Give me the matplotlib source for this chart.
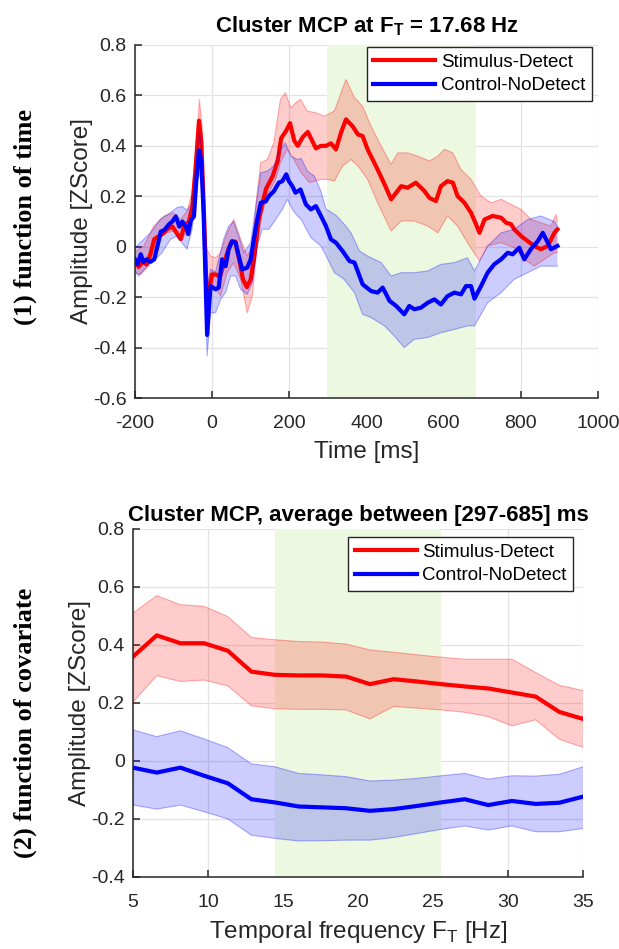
import matplotlib
matplotlib.use('Agg')
import matplotlib.pyplot as plt
import numpy as np

plt.rcParams['font.family'] = 'Liberation Sans'
plt.rcParams['mathtext.fontset'] = 'custom'
plt.rcParams['mathtext.rm'] = 'Liberation Sans'
plt.rcParams['axes.unicode_minus'] = False

# ---- (1) amplitude as a function of time ----
red_t = [-200, -190, -180, -170, -160, -150, -140, -129, -116, -103, -90, -81, -73, -60, -51, -42, -34, -28,
         -21, -16, -12, -6, 0, 10, 20, 30, 40, 50, 60, 70, 80, 90, 100, 110, 120, 130, 140, 157, 170, 179,
         192, 202, 213, 222, 235, 248, 261, 269, 282, 295, 308, 321, 334, 347, 364, 378, 390, 403, 416, 429,
         447, 464, 477, 490, 507, 528, 550, 563, 580, 593, 610, 624, 636, 654, 671, 684, 693, 706, 727, 749,
         762, 775, 783, 801, 818, 835, 852, 870, 887, 895]
red_mean = [-0.06, -0.08, -0.06, -0.07, -0.03, 0.03, 0.04, 0.05, 0.07, 0.08, 0.05, 0.03, 0.08, 0.10, 0.16, 0.33,
            0.50, 0.42, 0.13, -0.10, -0.28, -0.16, -0.11, -0.11, -0.12, -0.07, -0.02, 0.02, 0.02, -0.05, -0.13,
            -0.16, -0.13, -0.03, 0.10, 0.17, 0.23, 0.28, 0.34, 0.43, 0.46, 0.49, 0.42, 0.40, 0.435, 0.455, 0.415,
            0.39, 0.40, 0.40, 0.41, 0.386, 0.452, 0.505, 0.478, 0.445, 0.439, 0.386, 0.346, 0.306, 0.247, 0.188,
            0.214, 0.24, 0.234, 0.254, 0.221, 0.194, 0.181, 0.24, 0.26, 0.254, 0.201, 0.174, 0.135, 0.089, 0.055,
            0.108, 0.122, 0.115, 0.095, 0.089, 0.069, 0.042, 0.022, 0.003, -0.01, 0.003, 0.055, 0.069]

red_up_t = [-203, -177, -151, -125, -100, -82, -65, -52, -39, -33, -26, -17, -4, 9, 22, 39, 56, 74, 91, 104,
            117, 126, 143, 160, 177, 190, 204, 216, 229, 247, 269, 291, 317, 334, 347, 369, 390, 412, 438, 464,
            481, 507, 533, 563, 585, 602, 624, 645, 671, 697, 723, 749, 775, 801, 827, 852, 878, 891, 895]
red_up = [-0.024, 0.003, 0.082, 0.122, 0.135, 0.108, 0.14, 0.214, 0.425, 0.584, 0.478, 0.0, -0.037, -0.044,
          -0.024, 0.055, 0.108, 0.03, -0.037, 0.003, 0.214, 0.333, 0.346, 0.412, 0.584, 0.61, 0.551, 0.57, 0.584,
          0.538, 0.531, 0.518, 0.538, 0.61, 0.663, 0.591, 0.557, 0.478, 0.399, 0.326, 0.372, 0.372, 0.359, 0.34,
          0.359, 0.386, 0.372, 0.306, 0.267, 0.201, 0.174, 0.188, 0.168, 0.148, 0.108, 0.095, 0.082, 0.128, 0.10]

red_lo_t = [-203, -186, -164, -143, -117, -100, -87, -74, -56, -39, -33, -26, -19, -13, -4, 9, 22, 39, 56, 74,
            91, 104, 117, 130, 147, 165, 177, 195, 212, 231, 252, 282, 300, 317, 338, 360, 378, 403, 429, 464,
            490, 524, 559, 585, 610, 636, 662, 693, 714, 749, 783, 809, 835, 861, 887, 895]
red_lo = [-0.103, -0.11, -0.077, 0.03, 0.055, 0.062, 0.03, 0.04, 0.08, 0.254, 0.425, 0.267, -0.05, -0.30, -0.156,
          -0.162, -0.196, -0.103, -0.063, -0.129, -0.262, -0.196, 0.003, 0.135, 0.214, 0.267, 0.333, 0.386, 0.346,
          0.293, 0.254, 0.267, 0.267, 0.26, 0.32, 0.346, 0.32, 0.267, 0.174, 0.062, 0.102, 0.102, 0.082, 0.055,
          0.122, 0.082, 0.016, -0.057, 0.003, 0.016, -0.004, -0.05, -0.077, -0.05, -0.024, -0.024]

blue_t = [-200, -193, -185, -178, -170, -160, -150, -142, -133, -124, -111, -103, -94, -85, -77, -68, -62, -55,
          -47, -41, -34, -28, -22, -17, -13, -9, -4, 9, 17, 26, 35, 43, 52, 61, 69, 78, 91, 100, 108, 117, 126,
          139, 147, 160, 173, 182, 192, 199, 208, 216, 229, 243, 256, 269, 282, 295, 308, 321, 338, 356, 369,
          390, 412, 429, 442, 460, 477, 498, 511, 524, 541, 559, 576, 593, 610, 628, 645, 658, 671, 680, 697,
          714, 731, 749, 766, 779, 796, 809, 826, 844, 857, 870, 878, 895]
blue_mean = [-0.05, -0.07, -0.03, -0.06, -0.05, -0.06, -0.05, 0.0, 0.06, 0.066, 0.09, 0.10, 0.12, 0.08, 0.10,
             0.08, 0.05, 0.105, 0.12, 0.26, 0.383, 0.34, 0.13, -0.13, -0.35, -0.26, -0.156, -0.169, -0.162,
             -0.05, -0.077, -0.01, 0.022, 0.016, -0.037, -0.09, -0.083, -0.05, 0.029, 0.108, 0.174, 0.18, 0.2,
             0.22, 0.254, 0.26, 0.287, 0.26, 0.24, 0.214, 0.227, 0.168, 0.148, 0.161, 0.122, 0.082, 0.029, 0.016,
             -0.017, -0.057, -0.063, -0.149, -0.176, -0.182, -0.162, -0.215, -0.235, -0.268, -0.235, -0.248,
             -0.242, -0.222, -0.209, -0.229, -0.196, -0.182, -0.189, -0.156, -0.156, -0.206, -0.156, -0.103,
             -0.07, -0.05, -0.024, -0.03, -0.004, -0.05, -0.01, 0.022, 0.055, 0.016, -0.01, 0.003]

blue_up_t = [-203, -186, -160, -134, -108, -91, -78, -65, -52, -39, -33, -26, -17, -11, -4, 9, 17, 30, 43, 56,
             69, 82, 100, 113, 126, 143, 160, 177, 190, 204, 221, 231, 247, 265, 282, 295, 321, 342, 360, 382,
             403, 438, 464, 490, 524, 559, 593, 628, 662, 680, 714, 749, 783, 818, 852, 887, 895]
blue_up = [-0.01, 0.016, 0.055, 0.108, 0.135, 0.155, 0.16, 0.145, 0.174, 0.386, 0.458, 0.36, 0.03, -0.143, -0.09,
           -0.10, -0.05, 0.03, 0.082, 0.10, 0.042, -0.024, 0.016, 0.16, 0.293, 0.30, 0.32, 0.386, 0.412, 0.359,
           0.346, 0.35, 0.30, 0.28, 0.22, 0.15, 0.125, 0.09, 0.055, -0.017, -0.037, -0.063, -0.116, -0.103,
           -0.103, -0.096, -0.07, -0.063, -0.044, -0.096, 0.003, 0.055, 0.069, 0.108, 0.122, 0.10, 0.082]

blue_lo_t = [-203, -190, -169, -147, -130, -108, -91, -78, -65, -52, -39, -33, -26, -19, -13, -4, 9, 22, 35, 48,
             61, 74, 91, 104, 117, 130, 147, 165, 182, 195, 208, 221, 231, 256, 282, 300, 317, 342, 369, 390, 412,
             447, 472, 498, 524, 559, 593, 628, 662, 680, 714, 749, 783, 818, 852, 887, 895]
blue_lo = [-0.09, -0.116, -0.077, -0.05, -0.024, 0.029, 0.042, 0.016, -0.01, 0.069, 0.254, 0.293, 0.227, -0.103,
           -0.433, -0.262, -0.262, -0.209, -0.182, -0.116, -0.116, -0.169, -0.189, -0.143, 0.003, 0.069, 0.069,
           0.108, 0.148, 0.188, 0.148, 0.122, 0.108, 0.036, 0.003, -0.05, -0.103, -0.129, -0.182, -0.268, -0.281,
           -0.314, -0.354, -0.40, -0.367, -0.36, -0.341, -0.328, -0.314, -0.314, -0.222, -0.182, -0.129, -0.103,
           -0.077, -0.077, -0.077]

time_window = [297, 685]

# ---- (2) amplitude as a function of temporal frequency ----
freq = [5.00, 6.58, 8.16, 9.74, 11.32, 12.89, 14.47, 16.05, 17.63, 19.21, 20.79, 22.37, 23.95, 25.53, 27.11,
        28.68, 30.26, 31.84, 33.42, 35.00]
f_red_mean = [0.360, 0.433, 0.406, 0.406, 0.380, 0.308, 0.297, 0.295, 0.295, 0.291, 0.265, 0.282, 0.274, 0.265,
              0.257, 0.250, 0.236, 0.222, 0.169, 0.145]
f_red_up = [0.510, 0.570, 0.539, 0.533, 0.498, 0.426, 0.418, 0.412, 0.410, 0.403, 0.383, 0.375, 0.366, 0.358,
            0.351, 0.351, 0.351, 0.305, 0.261, 0.243]
f_red_lo = [0.203, 0.294, 0.274, 0.279, 0.259, 0.190, 0.180, 0.178, 0.178, 0.176, 0.145, 0.188, 0.182, 0.176,
            0.168, 0.153, 0.121, 0.142, 0.075, 0.047]
f_blue_mean = [-0.023, -0.040, -0.023, -0.051, -0.077, -0.132, -0.143, -0.157, -0.160, -0.163, -0.172, -0.166,
               -0.155, -0.143, -0.132, -0.152, -0.138, -0.148, -0.144, -0.123]
f_blue_up = [0.107, 0.084, 0.104, 0.076, 0.046, -0.010, -0.020, -0.043, -0.048, -0.054, -0.069, -0.066, -0.060,
             -0.051, -0.043, -0.063, -0.051, -0.052, -0.046, -0.020]
f_blue_lo = [-0.152, -0.166, -0.152, -0.175, -0.200, -0.256, -0.267, -0.276, -0.275, -0.273, -0.273, -0.264,
             -0.250, -0.236, -0.224, -0.238, -0.224, -0.244, -0.244, -0.233]

freq_window = [14.47, 25.53]

labels = ['Stimulus-Detect', 'Control-NoDetect']
green = '#edf8e0'
grid_c = '#e3e3e3'
dark = '#262626'


def band(ax, tu, up, tl, lo, color):
    xs = np.concatenate([tu, tl[::-1]])
    ys = np.concatenate([up, lo[::-1]])
    ax.fill(xs, ys, color=color, alpha=0.2, lw=0)
    ax.plot(tu, up, color=color, alpha=0.3, lw=0.8)
    ax.plot(tl, lo, color=color, alpha=0.3, lw=0.8)


def style(ax):
    ax.set_axisbelow(True)
    ax.grid(True, color=grid_c, lw=0.9)
    for s in ['top', 'right']:
        ax.spines[s].set_visible(False)
    for s in ['left', 'bottom']:
        ax.spines[s].set_color(dark)
        ax.spines[s].set_linewidth(1.1)
    ax.tick_params(direction='in', length=5, width=1.1, labelsize=14, colors=dark)
    ax.tick_params(axis='x', pad=12)
    ax.tick_params(axis='y', pad=6)


fig = plt.figure(figsize=(6.19, 9.49), dpi=100)

# top panel
ax1 = fig.add_axes([0.218, 0.5806, 0.748, 0.372])
ax1.axvspan(time_window[0], time_window[1], color=green, lw=0, zorder=1)
band(ax1, np.array(red_up_t), np.array(red_up), np.array(red_lo_t), np.array(red_lo), 'red')
l1, = ax1.plot(red_t, red_mean, color='red', lw=3)
band(ax1, np.array(blue_up_t), np.array(blue_up), np.array(blue_lo_t), np.array(blue_lo), 'blue')
l2, = ax1.plot(blue_t, blue_mean, color='blue', lw=3)
ax1.set_xlim(-200, 1000)
ax1.set_ylim(-0.6, 0.8)
ax1.set_xticks([-200, 0, 200, 400, 600, 800, 1000])
ax1.set_yticks([-0.6, -0.4, -0.2, 0, 0.2, 0.4, 0.6, 0.8])
ax1.set_yticklabels(['-0.6', '-0.4', '-0.2', '0', '0.2', '0.4', '0.6', '0.8'])
style(ax1)
ax1.set_xlabel('Time [ms]', fontsize=17.5, color=dark, labelpad=7)
ax1.set_ylabel('Amplitude [ZScore]', fontsize=17.5, color=dark, labelpad=0)
ax1.set_title(r'Cluster MCP at F$_\mathregular{T}$ = 17.68 Hz', fontsize=16, fontweight='bold', pad=9)
leg = ax1.legend([l1, l2], labels, loc='upper right', bbox_to_anchor=(0.987, 0.994), borderaxespad=0,
                 fontsize=13.5, handlelength=3.3, handletextpad=0.3, labelspacing=0.35, borderpad=0.35,
                 fancybox=False, edgecolor=dark, framealpha=1)
leg.get_frame().set_linewidth(1.0)

# bottom panel
ax2 = fig.add_axes([0.2149, 0.0759, 0.727, 0.3667])
ax2.axvspan(freq_window[0], freq_window[1], color=green, lw=0, zorder=1)
band(ax2, np.array(freq), np.array(f_red_up), np.array(freq), np.array(f_red_lo), 'red')
m1, = ax2.plot(freq, f_red_mean, color='red', lw=3)
band(ax2, np.array(freq), np.array(f_blue_up), np.array(freq), np.array(f_blue_lo), 'blue')
m2, = ax2.plot(freq, f_blue_mean, color='blue', lw=3)
ax2.set_xlim(5, 35)
ax2.set_ylim(-0.4, 0.8)
ax2.set_xticks([5, 10, 15, 20, 25, 30, 35])
ax2.set_yticks([-0.4, -0.2, 0, 0.2, 0.4, 0.6, 0.8])
ax2.set_yticklabels(['-0.4', '-0.2', '0', '0.2', '0.4', '0.6', '0.8'])
style(ax2)
ax2.set_xlabel(r'Temporal frequency F$_\mathregular{T}$ [Hz]', fontsize=17.5, color=dark, labelpad=6)
ax2.set_ylabel('Amplitude [ZScore]', fontsize=17.5, color=dark, labelpad=0)
ax2.set_title('Cluster MCP, average between [297-685] ms', fontsize=16, fontweight='bold', pad=6)
leg2 = ax2.legend([m1, m2], labels, loc='upper right', bbox_to_anchor=(0.978, 0.977), borderaxespad=0,
                  fontsize=13.5, handlelength=3.3, handletextpad=0.3, labelspacing=0.35, borderpad=0.35,
                  fancybox=False, edgecolor=dark, framealpha=1)
leg2.get_frame().set_linewidth(1.0)

# row labels on the left
fig.text(25 / 619, 1 - 217 / 949, '(1) function of time', rotation=90, ha='center', va='center',
         fontfamily='Liberation Serif', fontweight='bold', fontsize=19)
fig.text(25 / 619, 1 - 723 / 949, '(2) function of covariate', rotation=90, ha='center', va='center',
         fontfamily='Liberation Serif', fontweight='bold', fontsize=19)

fig.savefig('out.png', dpi=100)
